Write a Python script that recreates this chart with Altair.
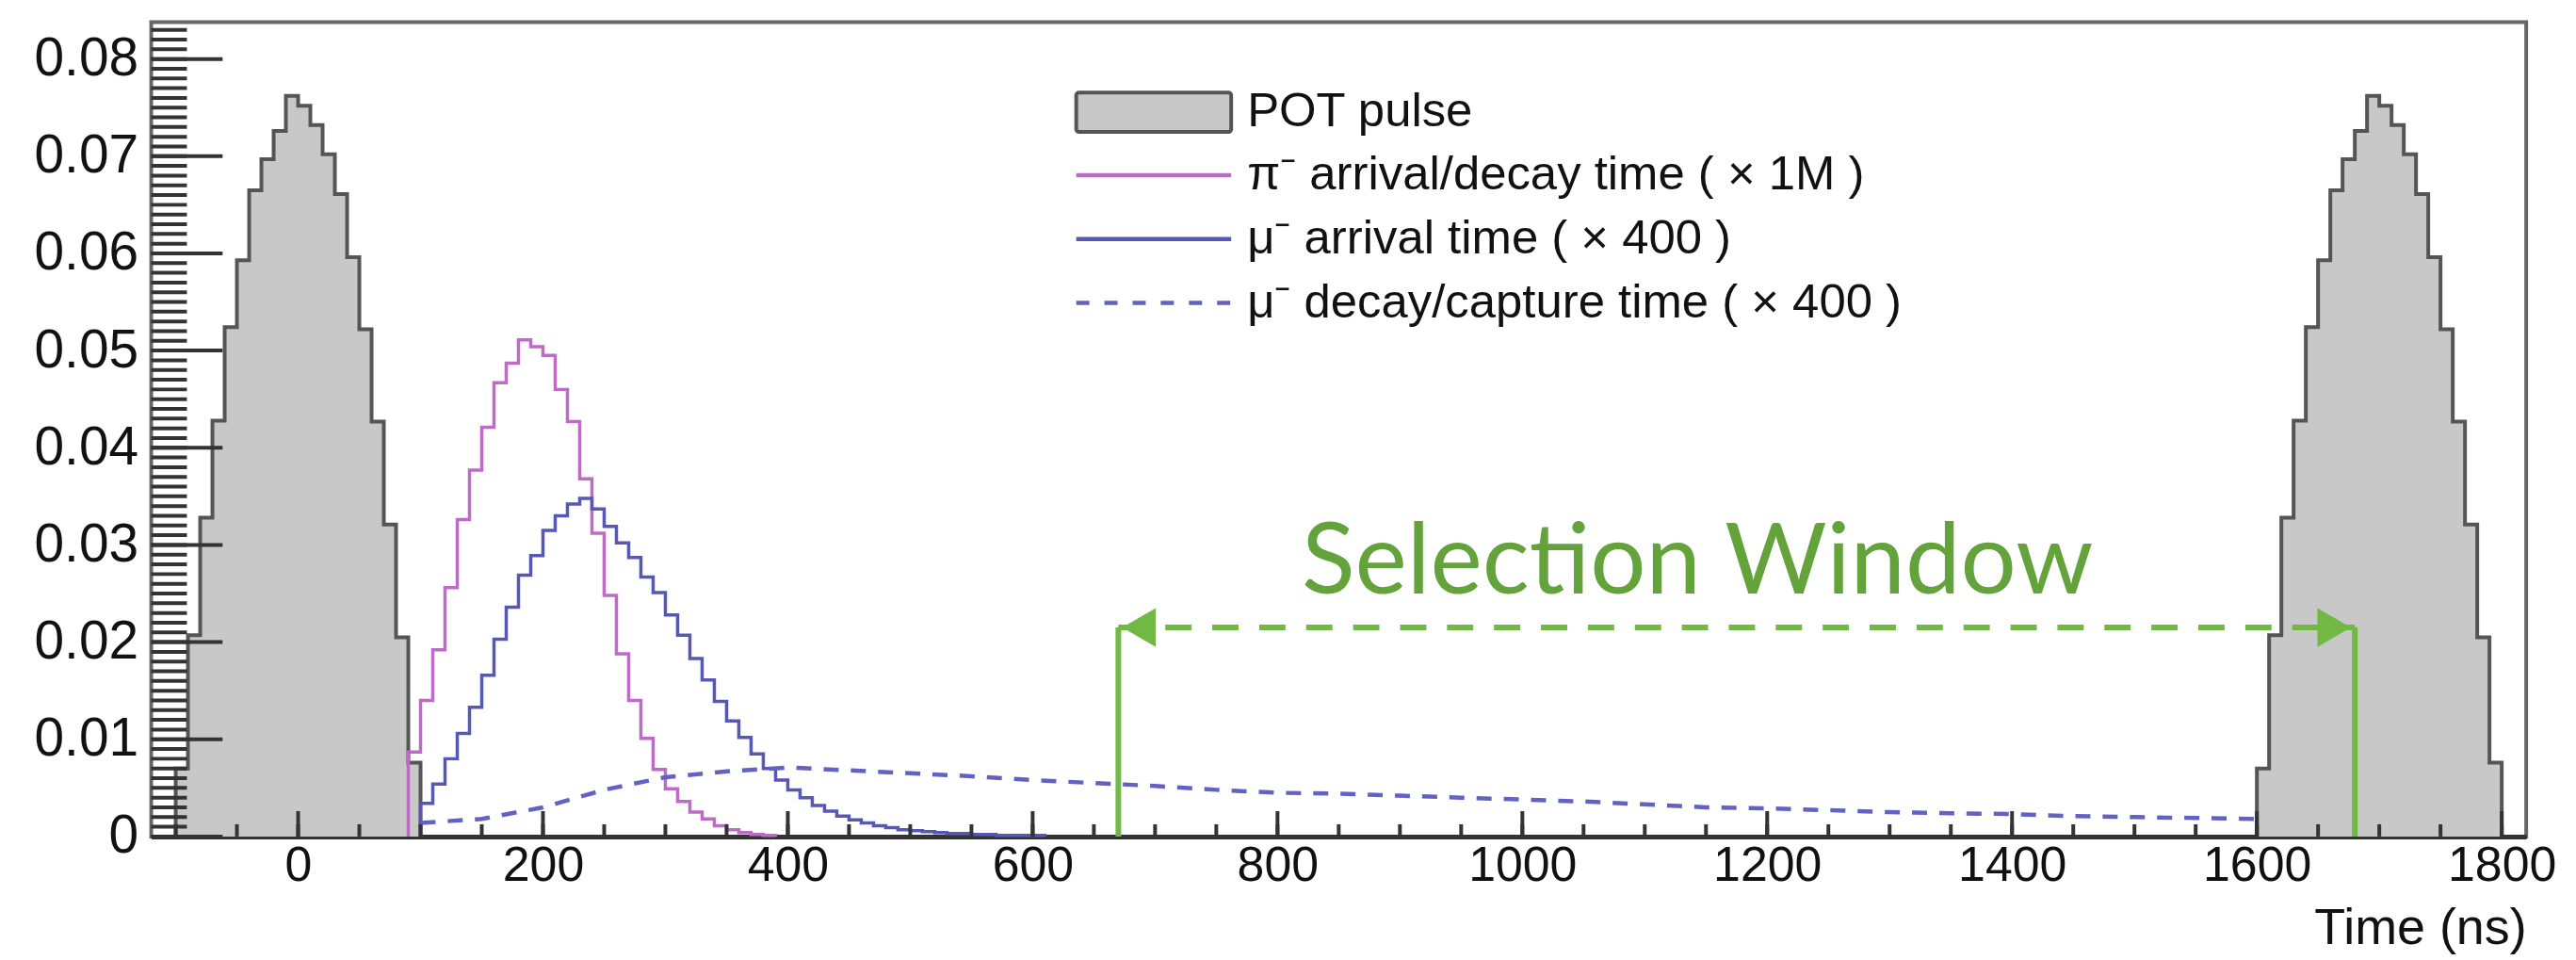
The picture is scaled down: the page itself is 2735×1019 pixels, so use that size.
import altair as alt
import pandas as pd

# ---------------- data ----------------
BIN_NS = 10
POT_PULSE_STARTS = [-100, 1600]
POT_HEIGHTS = [0.0070, 0.0207, 0.0328, 0.0428, 0.0524, 0.0593, 0.0665, 0.0697, 0.0726, 0.0762,
               0.0752, 0.0732, 0.0702, 0.0661, 0.0596, 0.0522, 0.0427, 0.0321, 0.0205, 0.0076]

PION_START = 90
PION_HEIGHTS = [0.0087, 0.0140, 0.0192, 0.0256, 0.0326, 0.0377, 0.0421, 0.0467, 0.0487, 0.0511,
                0.0504, 0.0495, 0.0460, 0.0427, 0.0368, 0.0312, 0.0248, 0.0188, 0.0140, 0.0101,
                0.0069, 0.0049, 0.0036, 0.0025, 0.0018, 0.0011, 0.0007, 0.0004, 0.0002, 0.0001]

MU_START = 100
MU_HEIGHTS = [0.0034, 0.0054, 0.0080, 0.0106, 0.0133, 0.0166, 0.0203, 0.0236, 0.0269, 0.0289,
              0.0315, 0.0330, 0.0342, 0.0348, 0.0337, 0.0319, 0.0302, 0.0287, 0.0267, 0.0251,
              0.0228, 0.0207, 0.0183, 0.0161, 0.0139, 0.0119, 0.0102, 0.0085, 0.0070, 0.0058,
              0.0048, 0.0040, 0.0032, 0.0026, 0.0021, 0.0017, 0.0014, 0.0011, 0.0009, 0.0007,
              0.0006, 0.0005, 0.0004, 0.0003, 0.0003, 0.0002, 0.0002, 0.0001, 0.0001, 0.0001,
              0.0001]

DECAY_TIMES = [100, 150, 200, 250, 300, 350, 400, 450, 500, 550, 600, 650, 700, 750, 800, 850,
               900, 950, 1000, 1050, 1100, 1150, 1200, 1250, 1300, 1350, 1400, 1450, 1500, 1550, 1600]
DECAY_VALUES = [0.0014, 0.0018, 0.0030, 0.0048, 0.0061, 0.0067, 0.0071, 0.0068, 0.0065, 0.0062,
                0.0058, 0.0055, 0.0052, 0.0048, 0.0045, 0.0044, 0.0042, 0.0040, 0.0038, 0.0036,
                0.0033, 0.0030, 0.0029, 0.0027, 0.0025, 0.0024, 0.0023, 0.0021, 0.0020, 0.0019, 0.0018]

WINDOW_EDGES = [670, 1680]
ARROW_LEVEL = 0.0215
WINDOW_LABEL = "Selection Window"
WINDOW_LABEL_POS = [1143, 0.0250]

LEGEND_LABELS = ["POT pulse", "π⁻ arrival/decay time ( × 1M )",
                 "μ⁻ arrival time ( × 400 )", "μ⁻ decay/capture time ( × 400 )"]

X_TICK_LABELS = [0, 200, 400, 600, 800, 1000, 1200, 1400, 1600, 1800]
Y_TICK_LABELS = [0, 0.01, 0.02, 0.03, 0.04, 0.05, 0.06, 0.07, 0.08]
X_MINOR = list(range(-100, 1801, 50))
Y_MINOR = [i / 1000 for i in range(0, 84)]

# ---------------- styling ----------------
W, H = 2529, 867
X_DOMAIN = [-120, 1820]
Y_DOMAIN = [0, 0.0838]
FONT = "Liberation Sans"
C_FILL, C_EDGE = "#c8c8c8", "#555555"
C_PION, C_MU, C_DECAY = "#bd6cc6", "#5757b5", "#6262c4"
C_GREEN, C_GREEN_TXT = "#72b845", "#64a33b"

xs = alt.Scale(domain=X_DOMAIN, nice=False, zero=False)
ys = alt.Scale(domain=Y_DOMAIN, nice=False, zero=False)

x_axis = alt.Axis(values=X_TICK_LABELS, format="d", ticks=False, domain=True, domainColor="#333333",
                  domainWidth=5, labelFont=FONT, labelFontSize=52, labelColor="#111111",
                  labelPadding=6, grid=False, title="Time (ns)", titleFont=FONT,
                  titleFontSize=54, titleFontWeight="normal", titleColor="#111111",
                  titleAnchor="end", titleAlign="right", titleBaseline="alphabetic",
                  titleX=W, titleY=114)
y_axis = alt.Axis(values=Y_TICK_LABELS, ticks=False, domain=False, grid=False,
                  labelFont=FONT, labelFontSize=57, labelColor="#111111", labelPadding=14,
                  labelExpr="datum.value == 0 ? '0' : format(datum.value, '.2f')", title=None)


def X(field="t"):
    return alt.X(f"{field}:Q", scale=xs, axis=x_axis)


def Y(field="v"):
    return alt.Y(f"{field}:Q", scale=ys, axis=y_axis, stack=None)


def hist_rows(start, heights, key, lead_zero=True):
    rows = [{"t": start, "v": 0.0, "k": key, "o": 0}] if lead_zero else []
    for i, h in enumerate(heights):
        rows.append({"t": start + i * BIN_NS, "v": h, "k": key, "o": i + 1})
    rows.append({"t": start + len(heights) * BIN_NS, "v": 0.0, "k": key, "o": len(heights) + 1})
    return rows


pot_line_rows, pot_area_rows = [], []
for j, s in enumerate(POT_PULSE_STARTS):
    pot_line_rows += hist_rows(s, POT_HEIGHTS, f"p{j}")
    pot_area_rows += hist_rows(s, POT_HEIGHTS, f"p{j}", lead_zero=False)
pot_line_df = pd.DataFrame(pot_line_rows)
pot_area_df = pd.DataFrame(pot_area_rows)
pion_df = pd.DataFrame(hist_rows(PION_START, PION_HEIGHTS, "pi"))
mu_df = pd.DataFrame(hist_rows(MU_START, MU_HEIGHTS, "mu"))
decay_df = pd.DataFrame({"t": DECAY_TIMES, "v": DECAY_VALUES})

pot_area = alt.Chart(pot_area_df).mark_area(interpolate="step-after", color=C_FILL).encode(
    x=X(), y=Y(), detail="k:N")
pot_line = alt.Chart(pot_line_df).mark_line(interpolate="step-after", color=C_EDGE, strokeWidth=4).encode(
    x=X(), y=Y(), detail="k:N", order="o:Q")
pion_line = alt.Chart(pion_df).mark_line(interpolate="step-after", color=C_PION, strokeWidth=3.5).encode(
    x=X(), y=Y(), order="o:Q")
mu_line = alt.Chart(mu_df).mark_line(interpolate="step-after", color=C_MU, strokeWidth=3.5).encode(
    x=X(), y=Y(), order="o:Q")
decay_line = alt.Chart(decay_df).mark_line(color=C_DECAY, strokeWidth=4.5, strokeDash=[16, 13]).encode(
    x=X(), y=Y())

# inward ROOT-style ticks
TICK_C = "#333333"
ymaj = alt.Chart(pd.DataFrame({"v": Y_TICK_LABELS})).mark_rule(color=TICK_C, strokeWidth=4).encode(
    y=Y(), x=alt.value(0), x2=alt.value(76))
ymin = alt.Chart(pd.DataFrame({"v": Y_MINOR})).mark_rule(color=TICK_C, strokeWidth=4).encode(
    y=Y(), x=alt.value(0), x2=alt.value(38))
xmaj = alt.Chart(pd.DataFrame({"t": X_TICK_LABELS})).mark_rule(color=TICK_C, strokeWidth=4).encode(
    x=X(), y=alt.value(H), y2=alt.value(H - 27))
xmin = alt.Chart(pd.DataFrame({"t": X_MINOR})).mark_rule(color=TICK_C, strokeWidth=4).encode(
    x=X(), y=alt.value(H), y2=alt.value(H - 13))

# selection window annotation
win_df = pd.DataFrame({"t": WINDOW_EDGES, "v": [ARROW_LEVEL, ARROW_LEVEL], "z": [0.0, 0.0]})
win_vert = alt.Chart(win_df).mark_rule(color=C_GREEN, strokeWidth=6).encode(
    x=X(), y=Y(), y2="z:Q")
arrow_df = pd.DataFrame({"t": [WINDOW_EDGES[0]], "t2": [WINDOW_EDGES[1]], "v": [ARROW_LEVEL]})
win_arrow = alt.Chart(arrow_df).mark_rule(color=C_GREEN, strokeWidth=6, strokeDash=[28, 22]).encode(
    x=X(), x2="t2:Q", y=Y())
head_l = alt.Chart(win_df.iloc[[0]]).mark_point(shape="triangle-left", filled=True, color=C_GREEN,
                                                 size=1700, opacity=1, xOffset=22).encode(x=X(), y=Y())
head_r = alt.Chart(win_df.iloc[[1]]).mark_point(shape="triangle-right", filled=True, color=C_GREEN,
                                                 size=1700, opacity=1, xOffset=-22).encode(x=X(), y=Y())
win_text = alt.Chart(pd.DataFrame({"t": [WINDOW_LABEL_POS[0]], "v": [WINDOW_LABEL_POS[1]],
                                   "s": [WINDOW_LABEL]})).mark_text(
    font="Lato", fontSize=105, color=C_GREEN_TXT, align="center", baseline="alphabetic").encode(
    x=X(), y=Y(), text="s:N")

# manual legend (pixel layout)
LEG_X0, LEG_X1, LEG_TX = 985, 1150, 1167
LEG_ROWS = [96, 163, 231, 299]
LEG_COLORS = [None, C_PION, C_MU, C_DECAY]
LEG_DASH = [None, None, None, [14, 16]]
one = pd.DataFrame({"a": [0]})
legend_layers = [
    alt.Chart(one).mark_rect(fill=C_FILL, stroke=C_EDGE, strokeWidth=4, cornerRadius=3).encode(
        x=alt.value(LEG_X0), x2=alt.value(LEG_X1),
        y=alt.value(LEG_ROWS[0] - 21), y2=alt.value(LEG_ROWS[0] + 21))
]
for i in range(1, 4):
    kw = {"strokeDash": LEG_DASH[i]} if LEG_DASH[i] else {}
    legend_layers.append(alt.Chart(one).mark_rule(color=LEG_COLORS[i], strokeWidth=4.5, **kw).encode(
        x=alt.value(LEG_X0), x2=alt.value(LEG_X1), y=alt.value(LEG_ROWS[i])))
for i, lab in enumerate(LEGEND_LABELS):
    legend_layers.append(alt.Chart(one).mark_text(
        font=FONT, fontSize=51, color="#111111", align="left", baseline="middle", text=lab).encode(
        x=alt.value(LEG_TX), y=alt.value(LEG_ROWS[i])))

chart = alt.layer(
    pot_area, pot_line, pion_line, mu_line, decay_line,
    ymin, ymaj, xmin, xmaj,
    win_vert, win_arrow, head_l, head_r, win_text,
    *legend_layers,
).properties(
    width=W, height=H,
    autosize=alt.AutoSizeParams(type="none"),
    padding={"left": 153, "top": 14, "right": 45, "bottom": 128},
    background="white",
).configure_view(stroke="#666666", strokeWidth=4)

chart.save("out.html", embed_options={"renderer": "svg", "actions": False})
